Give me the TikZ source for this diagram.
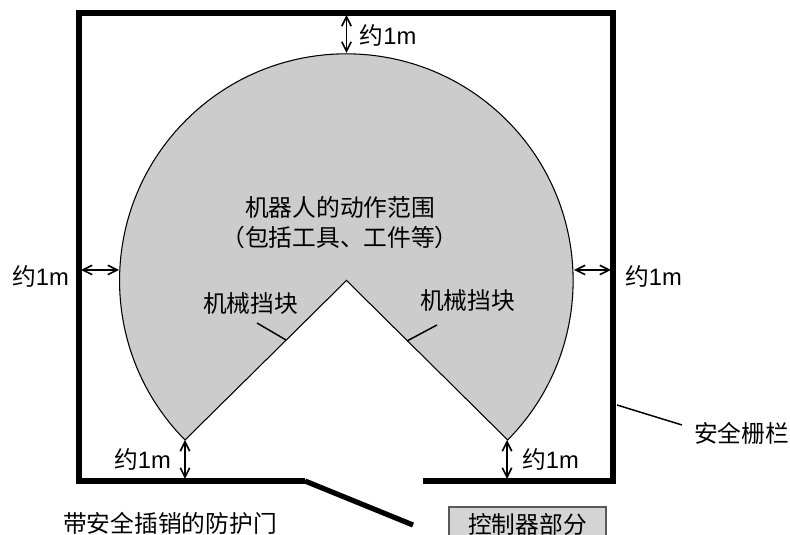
\documentclass[tikz,border=0pt]{standalone}
\usepackage{fontspec}
\usetikzlibrary{arrows.meta}
\setmainfont{Liberation Sans}
\newfontfamily\cjk{Noto Sans CJK SC}
\tikzset{
  x=0.75pt,y=0.75pt,
  fence/.style={line width=3.9pt,line cap=butt,line join=miter},
  dim/.style={line width=1.1pt,{Straight Barb[length=7pt,width=7pt,line width=1.25pt]}-{Straight Barb[length=7pt,width=7pt,line width=1.25pt]}},
  leader/.style={line width=1.1pt},
  lab/.style={inner sep=0pt,font=\fontsize{17.8pt}{20pt}\selectfont},
  ctrl/.style={draw=black!65,fill=black!17,line width=0.9pt},
  zone/.style={draw=black,fill=black!20,line width=0.8pt}
}
\begin{document}
\begin{tikzpicture}
\useasboundingbox (0,0) rectangle (790,535);
% sector
\coordinate (c) at (346.5,254.5);
\coordinate (pl) at (185,95);
\coordinate (pr) at (507,95);
\filldraw[zone] (c) -- (pl) arc[start angle=224.65,end angle=-44.65,radius=226.8] -- cycle;
% fence
\coordinate (fa) at (305,54);
\coordinate (fb) at (413,10);
\coordinate (fc) at (423,54);
\draw[fence] (fa) -- (79,54) -- (79,522) -- (613,522) -- (613,54) -- (fc);
\draw[fence] (fa) -- (fb);
% dims
\coordinate (t1) at (346.5,520); \coordinate (t2) at (346.5,482);
\coordinate (l1) at (81,265); \coordinate (l2) at (119,265);
\coordinate (r1) at (574,265); \coordinate (r2) at (611,265);
\coordinate (bl1) at (185,95); \coordinate (bl2) at (185,56);
\coordinate (br1) at (507,95); \coordinate (br2) at (507,56);
\draw[dim] (t1) -- (t2);
\draw[dim] (l1) -- (l2);
\draw[dim] (r1) -- (r2);
\draw[dim] (bl1) -- (bl2);
\draw[dim] (br1) -- (br2);
% labels
\node[lab] (lt) at (388,500) {\cjk 约\rmfamily 1m};
\node[lab] (ll) at (40.5,259) {\cjk 约\rmfamily 1m};
\node[lab] (lr) at (653.5,259) {\cjk 约\rmfamily 1m};
\node[lab] (lbl) at (142.5,76) {\cjk 约\rmfamily 1m};
\node[lab] (lbr) at (550.5,76) {\cjk 约\rmfamily 1m};
\node[lab] (title) at (340,328) {\cjk 机器人的动作范围};
\node[lab] (sub) at (340,298) {\cjk （包括工具、工件等）};
\node[lab] (ml) at (250.5,231) {\cjk 机械挡块};
\node[lab] (mr) at (467.5,234) {\cjk 机械挡块};
\node[lab] (fl) at (741.5,102) {\cjk 安全栅栏};
\node[lab] (dl) at (170,12) {\cjk 带安全插销的防护门};
\draw[ctrl] (449,-10) rectangle (606,28);
\node[lab] (cl) at (527.5,11) {\cjk 控制器部分};
% leaders
\coordinate (a1) at (286,195); \coordinate (a2) at (257,212);
\coordinate (b1) at (407,194); \coordinate (b2) at (437,210);
\coordinate (d1) at (617,130); \coordinate (d2) at (682,110);
\draw[leader] (a1) -- (a2);
\draw[leader] (b1) -- (b2);
\draw[leader] (d1) -- (d2);
\end{tikzpicture}
\end{document}
